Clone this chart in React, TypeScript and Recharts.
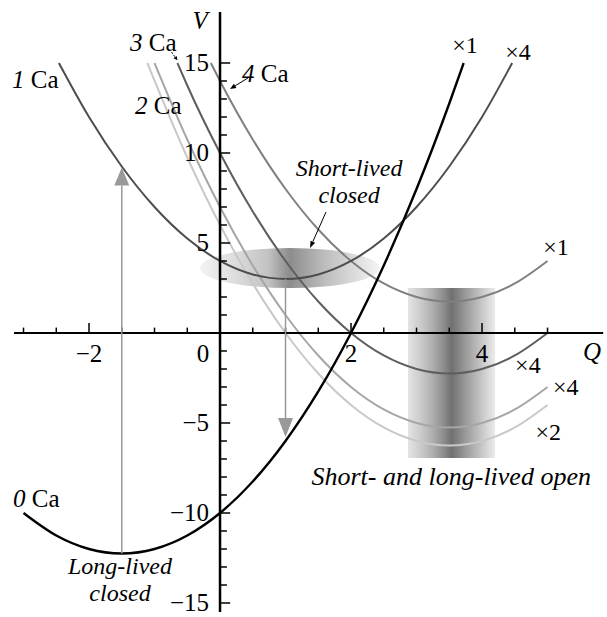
import React from "react";
import {
  ComposedChart,
  Line,
  XAxis,
  YAxis,
  ReferenceLine,
  ReferenceArea,
  ReferenceDot,
} from "recharts";

type Pt = { q: number; v: number };

// V(Q) curves for each number of bound Ca
const zeroCa: Pt[] = [
  { q: -3, v: -10 }, { q: -2.5, v: -11.25 }, { q: -2, v: -12 }, { q: -1.5, v: -12.25 },
  { q: -1, v: -12 }, { q: -0.5, v: -11.25 }, { q: 0, v: -10 }, { q: 0.5, v: -8.25 },
  { q: 1, v: -6 }, { q: 1.5, v: -3.25 }, { q: 2, v: 0 }, { q: 2.5, v: 3.75 },
  { q: 3, v: 8 }, { q: 3.5, v: 12.75 }, { q: 3.72, v: 15 },
];

const oneCa: Pt[] = [
  { q: -2.46, v: 15 }, { q: -2, v: 12 }, { q: -1.5, v: 9.25 }, { q: -1, v: 7 },
  { q: -0.5, v: 5.25 }, { q: 0, v: 4 }, { q: 0.5, v: 3.25 }, { q: 1, v: 3 },
  { q: 1.5, v: 3.25 }, { q: 2, v: 4 }, { q: 2.5, v: 5.25 }, { q: 3, v: 7 },
  { q: 3.5, v: 9.25 }, { q: 4, v: 12 }, { q: 4.46, v: 15 },
];

const twoCaX4: Pt[] = [
  { q: -1, v: 15 }, { q: -0.5, v: 10.75 }, { q: 0, v: 7 }, { q: 0.5, v: 3.75 },
  { q: 1, v: 1 }, { q: 1.5, v: -1.25 }, { q: 2, v: -3 }, { q: 2.5, v: -4.25 },
  { q: 3, v: -5 }, { q: 3.5, v: -5.25 }, { q: 4, v: -5 }, { q: 4.5, v: -4.25 },
  { q: 5, v: -3 },
];

const twoCaX2: Pt[] = [
  { q: -1.11, v: 15 }, { q: -0.5, v: 9.75 }, { q: 0, v: 6 }, { q: 0.5, v: 2.75 },
  { q: 1, v: 0 }, { q: 1.5, v: -2.25 }, { q: 2, v: -4 }, { q: 2.5, v: -5.25 },
  { q: 3, v: -6 }, { q: 3.5, v: -6.25 }, { q: 4, v: -6 }, { q: 4.5, v: -5.25 },
  { q: 5, v: -4 },
];

const threeCa: Pt[] = [
  { q: -0.65, v: 15 }, { q: -0.5, v: 13.75 }, { q: 0, v: 10 }, { q: 0.5, v: 6.75 },
  { q: 1, v: 4 }, { q: 1.5, v: 1.75 }, { q: 2, v: 0 }, { q: 2.5, v: -1.25 },
  { q: 3, v: -2 }, { q: 3.5, v: -2.25 }, { q: 4, v: -2 }, { q: 4.5, v: -1.25 },
  { q: 5, v: 0 },
];

const fourCa: Pt[] = [
  { q: -0.14, v: 15 }, { q: 0, v: 14 }, { q: 0.5, v: 10.75 }, { q: 1, v: 8 },
  { q: 1.5, v: 5.75 }, { q: 2, v: 4 }, { q: 2.5, v: 2.75 }, { q: 3, v: 2 },
  { q: 3.5, v: 1.75 }, { q: 4, v: 2 }, { q: 4.5, v: 2.75 }, { q: 5, v: 4 },
];

const xMinorTicks = [-3, -2.5, -1.5, -1, -0.5, 0.5, 1, 1.5, 2.5, 3, 3.5, 4.5, 5];
const xMajorTicks = [-2, 2, 4];
const yMinorTicks = [
  -14, -13, -12, -11, -9, -8, -7, -6, -4, -3, -2, -1,
  1, 2, 3, 4, 6, 7, 8, 9, 11, 12, 13, 14,
];
const yMajorTicks = [-15, -10, -5, 5, 10, 15];
const xTickLabels = [-2, 0, 2, 4];
const yTickLabels = [15, 10, 5, -5, -10, -15];

const SERIF = "'Liberation Serif', 'Times New Roman', serif";
const fmt = (n: number) => (n < 0 ? "\u2212" + Math.abs(n) : String(n));

type TextOpts = { anchor?: string; size?: number; italic?: boolean; dx?: number; dy?: number };

const note = (key: string, q: number, v: number, content: React.ReactNode, o: TextOpts = {}) => (
  <ReferenceDot
    key={key}
    x={q}
    y={v}
    r={0}
    ifOverflow="visible"
    shape={(p: any) => (
      <text
        x={p.cx + (o.dx ?? 0)}
        y={p.cy + (o.dy ?? 0)}
        textAnchor={o.anchor ?? "middle"}
        fontFamily={SERIF}
        fontSize={o.size ?? 25}
        fontStyle={o.italic ? "italic" : "normal"}
        fill="#000"
      >
        {content}
      </text>
    )}
  />
);

const caLabel = (n: string) => (
  <>
    <tspan fontStyle="italic">{n}</tspan>
    {" "}Ca
  </>
);

type ArrowOpts = { color: string; width: number; head: number; headW: number; dash?: string };

const arrowShape = (o: ArrowOpts) => (p: any) => {
  const { x1, y1, x2, y2 } = p;
  const len = Math.hypot(x2 - x1, y2 - y1) || 1;
  const ux = (x2 - x1) / len;
  const uy = (y2 - y1) / len;
  const bx = x2 - ux * o.head;
  const by = y2 - uy * o.head;
  const px = (-uy * o.headW) / 2;
  const py = (ux * o.headW) / 2;
  return (
    <g>
      <line x1={x1} y1={y1} x2={bx} y2={by} stroke={o.color} strokeWidth={o.width} strokeDasharray={o.dash} />
      <polygon points={`${x2},${y2} ${bx + px},${by + py} ${bx - px},${by - py}`} fill={o.color} />
    </g>
  );
};

const arrow = (key: string, a: [number, number], b: [number, number], o: ArrowOpts) => (
  <ReferenceLine
    key={key}
    segment={[{ x: a[0], y: a[1] }, { x: b[0], y: b[1] }]}
    ifOverflow="visible"
    shape={arrowShape(o)}
  />
);

const tick = (key: string, a: [number, number], b: [number, number]) => (
  <ReferenceLine
    key={key}
    segment={[{ x: a[0], y: a[1] }, { x: b[0], y: b[1] }]}
    stroke="#000"
    strokeWidth={1.5}
    ifOverflow="visible"
  />
);

const ellipseShape = (p: any) => (
  <ellipse
    cx={p.x + p.width / 2}
    cy={p.y + p.height / 2}
    rx={p.width / 2}
    ry={p.height / 2}
    fill="url(#ellGrad)"
  />
);

const curve = (key: string, data: Pt[], color: string, width: number) => (
  <Line
    key={key}
    data={data}
    dataKey="v"
    type="monotone"
    stroke={color}
    strokeWidth={width}
    dot={false}
    activeDot={false}
    isAnimationActive={false}
  />
);

export default function App() {
  return (
    <div style={{ position: "absolute", left: 0, top: 0, width: 607, height: 617, background: "#fff" }}>
      <ComposedChart width={607} height={617} margin={{ top: 0, right: 0, bottom: 0, left: 0 }}>
        <defs>
          <linearGradient id="ellGrad" x1="0" y1="0" x2="1" y2="0">
            <stop offset="0%" stopColor="#f3f3f3" />
            <stop offset="20%" stopColor="#dcdcdc" />
            <stop offset="38%" stopColor="#c2c2c2" />
            <stop offset="45%" stopColor="#a2a2a2" />
            <stop offset="50%" stopColor="#8c8c8c" />
            <stop offset="56%" stopColor="#9c9c9c" />
            <stop offset="70%" stopColor="#bebebe" />
            <stop offset="88%" stopColor="#dfdfdf" />
            <stop offset="100%" stopColor="#f5f5f5" />
          </linearGradient>
          <linearGradient id="bandGrad" x1="0" y1="0" x2="1" y2="0">
            <stop offset="0%" stopColor="#e4e4e4" />
            <stop offset="15%" stopColor="#cacaca" />
            <stop offset="30%" stopColor="#aaaaaa" />
            <stop offset="42%" stopColor="#8a8a8a" />
            <stop offset="50%" stopColor="#707070" />
            <stop offset="58%" stopColor="#858585" />
            <stop offset="72%" stopColor="#a8a8a8" />
            <stop offset="88%" stopColor="#cfcfcf" />
            <stop offset="100%" stopColor="#ececec" />
          </linearGradient>
        </defs>
        <XAxis dataKey="q" type="number" domain={[-3.359, 5.908]} allowDataOverflow hide />
        <YAxis type="number" domain={[-15.778, 18.5]} allowDataOverflow hide />

        <ReferenceArea x1={2.87} x2={4.2} y1={-6.95} y2={2.5} fill="url(#bandGrad)" fillOpacity={1} stroke="none" ifOverflow="visible" />
        <ReferenceArea x1={-0.305} x2={2.44} y1={2.5} y2={4.72} fillOpacity={1} stroke="none" ifOverflow="visible" shape={ellipseShape} />

        {curve("c2x2", twoCaX2, "#c8c8c8", 2)}
        {curve("c2x4", twoCaX4, "#a6a6a6", 2)}
        {curve("c4", fourCa, "#808080", 2)}
        {curve("c3", threeCa, "#5e5e5e", 2)}
        {curve("c1", oneCa, "#4d4d4d", 2)}
        {curve("c0", zeroCa, "#000000", 2.4)}

        {/* axes through the origin */}
        <ReferenceLine segment={[{ x: -3.145, y: 0 }, { x: 5.85, y: 0 }]} stroke="#000" strokeWidth={2} ifOverflow="visible" />
        <ReferenceLine segment={[{ x: 0, y: -15.5 }, { x: 0, y: 17.83 }]} stroke="#000" strokeWidth={2.5} ifOverflow="visible" />
        {xMinorTicks.map((q) => tick(`xm${q}`, [q, 0], [q, 0.3]))}
        {xMajorTicks.map((q) => tick(`xM${q}`, [q, 0], [q, 0.56]))}
        {yMinorTicks.map((v) => tick(`ym${v}`, [0, v], [0.105, v]))}
        {yMajorTicks.map((v) => tick(`yM${v}`, [0, v], [0.155, v]))}

        {xTickLabels.map((q) => note(`xl${q}`, q, 0, fmt(q), { dx: q === 0 ? -17 : 0, dy: 29 }))}
        {yTickLabels.map((v) => note(`yl${v}`, 0, v, fmt(v), { anchor: "end", dx: -11, dy: 8 }))}
        {note("axV", -0.305, 16.89, "V", { italic: true })}
        {note("axQ", 5.68, -1.5, "Q", { italic: true })}

        {/* transitions */}
        {arrow("up", [-1.5, -12.25], [-1.5, 9.2], { color: "#999", width: 1.5, head: 18, headW: 15 })}
        {arrow("down", [1, 3], [1, -5.78], { color: "#999", width: 1.5, head: 19, headW: 15 })}
        {arrow("pShort", [1.618, 6.72], [1.374, 4.72], { color: "#000", width: 1, head: 7, headW: 5 })}
        {arrow("p4", [0.427, 14.17], [0.153, 13.56], { color: "#000", width: 1, head: 6, headW: 5 })}
        {arrow("p3", [-0.74, 15.6], [-0.65, 15.15], { color: "#000", width: 1, head: 4, headW: 4, dash: "2 1.5" })}

        {/* curve names */}
        {note("n1", -3.176, 13.61, caLabel("1"), { anchor: "start" })}
        {note("n3", -1.374, 15.67, caLabel("3"), { anchor: "start" })}
        {note("n2", -1.298, 12.17, caLabel("2"), { anchor: "start" })}
        {note("n4", 0.336, 13.94, caLabel("4"), { anchor: "start" })}
        {note("n0", -3.16, -9.67, caLabel("0"), { anchor: "start" })}

        {/* multiplicities */}
        {note("m0", 3.74, 15.56, "\u00d71", { size: 24 })}
        {note("m1", 4.55, 15.17, "\u00d74", { size: 24 })}
        {note("m4", 5.13, 4.33, "\u00d71", { size: 24 })}
        {note("m3", 4.7, -2.22, "\u00d74", { size: 24 })}
        {note("m2a", 5.28, -3.44, "\u00d74", { size: 24 })}
        {note("m2b", 5.01, -5.94, "\u00d72", { size: 24 })}

        {/* state annotations */}
        {note("s1", 1.97, 8.72, "Short-lived", { italic: true, size: 24 })}
        {note("s2", 1.97, 7.22, "closed", { italic: true, size: 24 })}
        {note("l1", -1.527, -13.4, "Long-lived", { italic: true, size: 24 })}
        {note("l2", -1.527, -14.9, "closed", { italic: true, size: 24 })}
        {note("o1", 3.53, -8.44, "Short- and long-lived open", { italic: true, size: 26 })}
      </ComposedChart>
    </div>
  );
}
